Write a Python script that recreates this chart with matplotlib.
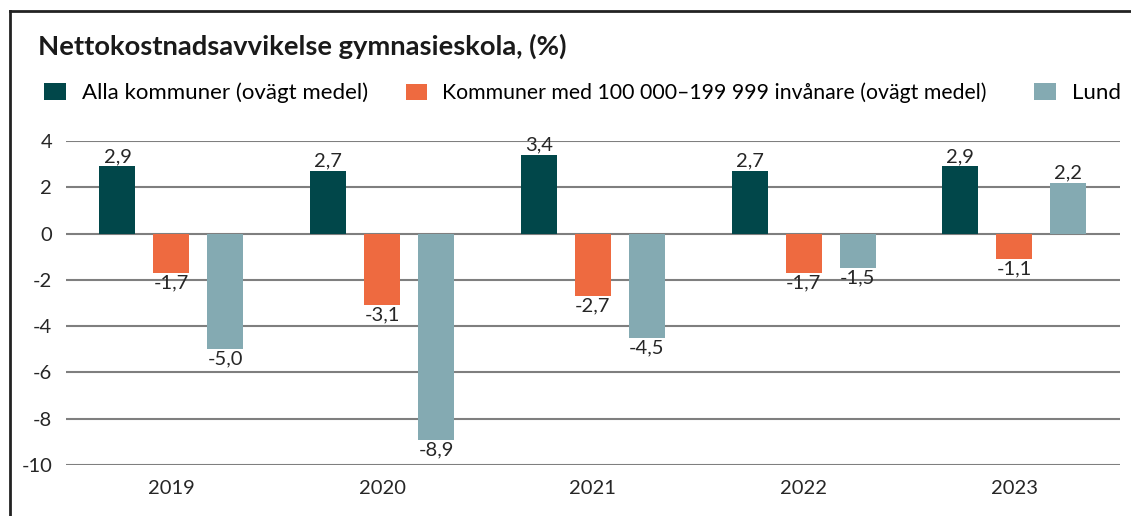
import matplotlib.pyplot as plt
import numpy as np
from matplotlib.lines import Line2D

plt.rcParams['font.family'] = ['Lato', 'DejaVu Sans']
plt.rcParams['axes.unicode_minus'] = False

years = ['2019', '2020', '2021', '2022', '2023']
alla = [2.9, 2.7, 3.4, 2.7, 2.9]
kommuner = [-1.7, -3.1, -2.7, -1.7, -1.1]
lund = [-5.0, -8.9, -4.5, -1.5, 2.2]

series = [
    ('Alla kommuner (ovägt medel)', alla, '#01474A'),
    ('Kommuner med 100 000–199 999 invånare (ovägt medel)', kommuner, '#EE6A40'),
    ('Lund', lund, '#84AAB2'),
]

fig = plt.figure(figsize=(11.31, 5.16), dpi=100)
ax = fig.add_axes([0.0584, 0.0988, 0.9316, 0.6279])

x = np.arange(len(years))
offsets = [-0.256, 0, 0.256]
width = 0.171
handles = []
for (name, vals, col), off in zip(series, offsets):
    bars = ax.bar(x + off, vals, width, color=col, zorder=3, label=name)
    handles.append(bars)
    for b, v in zip(bars, vals):
        lbl = f'{v:.1f}'.replace('.', ',')
        if v >= 0:
            ax.annotate(lbl, (b.get_x() + b.get_width() / 2, v), xytext=(0, 1),
                        textcoords='offset points', ha='center', va='bottom',
                        fontsize=14.5, color='#262626')
        else:
            ax.annotate(lbl, (b.get_x() + b.get_width() / 2, v), xytext=(0, -1),
                        textcoords='offset points', ha='center', va='top',
                        fontsize=14.5, color='#262626')

ax.set_xlim(-0.5, 4.5)
ax.set_ylim(-10, 4)
ax.set_yticks(range(-10, 5, 2))
ax.set_xticks(x)
ax.set_xticklabels(years)
ax.yaxis.grid(True, color='#7f7f7f', linewidth=1.5, zorder=0)
ax.set_axisbelow(True)
for s in ax.spines.values():
    s.set_visible(False)
ax.tick_params(length=0, labelsize=14.5, labelcolor='#262626')
ax.tick_params(axis='x', pad=11)
ax.tick_params(axis='y', pad=10)

fig.text(0.034, 0.91, 'Nettokostnadsavvikelse gymnasieskola, (%)', fontsize=19.7,
         fontweight='bold', color='#1a1a1a', va='center', ha='left')

# one legend entry per series, placed like the reference row
legend_x = [0.0389, 0.359, 0.914]
legend_fs = [16, 15.3, 16]
for h, lx, fs in zip(handles, legend_x, legend_fs):
    fig.legend(handles=[h], loc='center left', bbox_to_anchor=(lx, 0.82),
               frameon=False, fontsize=fs, handlelength=1.0, handleheight=0.8,
               handletextpad=0.7, borderaxespad=0, borderpad=0)

# frame around the figure
fig.add_artist(Line2D([10 / 1131, 1.0], [1 - 11 / 516, 1 - 11 / 516], color='#222222',
                      linewidth=2, transform=fig.transFigure))
fig.add_artist(Line2D([10 / 1131, 10 / 1131], [0, 1 - 11 / 516], color='#222222',
                      linewidth=2, transform=fig.transFigure))

fig.savefig('out.png', dpi=100)
